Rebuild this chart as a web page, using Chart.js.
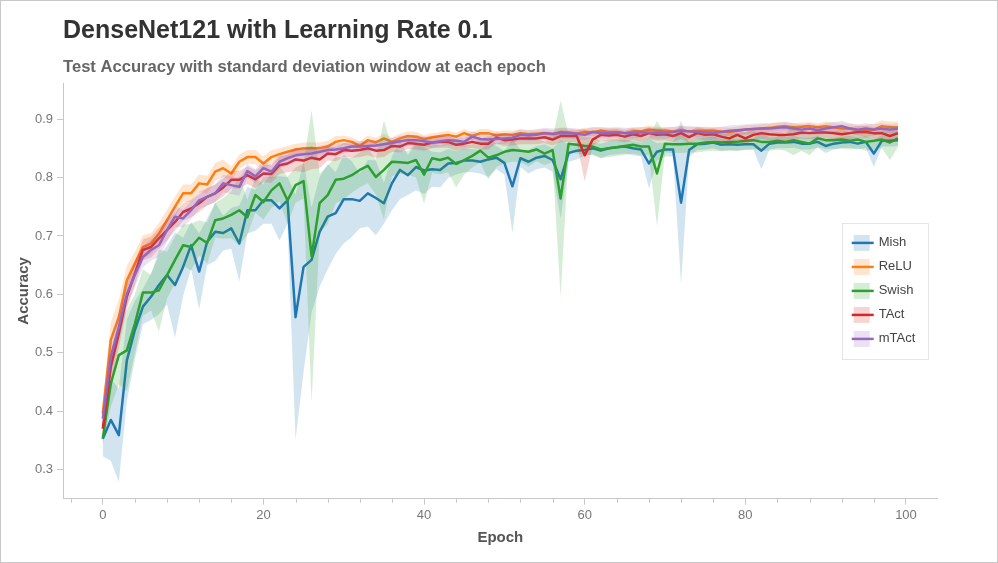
<!DOCTYPE html>
<html>
<head>
<meta charset="utf-8">
<title>DenseNet121 accuracy</title>
<script src="https://cdn.jsdelivr.net/npm/chart.js@4.4.1/dist/chart.umd.min.js"></script>
<style>
  html, body { margin: 0; padding: 0; background: #fff; }
  #wrap { position: relative; width: 998px; height: 563px; }
  #wrap::after { content: ''; position: absolute; left: 0; top: 0; right: 0; bottom: 0; border: 1px solid #c8c8c8; pointer-events: none; }
  canvas { display: block; }
</style>
</head>
<body>
<div id="wrap"><canvas id="accChart" width="998" height="563"></canvas></div>
<script>
// values (mean test accuracy and std per epoch)
const titleText = 'DenseNet121 with Learning Rate 0.1';
const subtitleText = 'Test Accuracy with standard deviation window at each epoch';

const seriesNames = ['Mish', 'ReLU', 'Swish', 'TAct', 'mTAct'];
const seriesColors = ['#1f77b4', '#ff7f0e', '#2ca02c', '#d62728', '#9467bd'];

const epochs = Array.from({ length: 100 }, (_, i) => i);

const xMajorTicks = [0, 20, 40, 60, 80, 100];
const xMinorTicks = [-4, 4, 8, 12, 16, 24, 28, 32, 36, 44, 48, 52, 56, 64, 68, 72, 76, 84, 88, 92, 96];
const yMajorTicks = [0.3, 0.4, 0.5, 0.6, 0.7, 0.8, 0.9];

const mishAcc = [
  0.353, 0.385, 0.359, 0.487, 0.539, 0.579, 0.596, 0.616, 0.633, 0.616,
  0.647, 0.684, 0.639, 0.690, 0.707, 0.705, 0.713, 0.687, 0.744, 0.744,
  0.761, 0.761, 0.747, 0.761, 0.561, 0.647, 0.659, 0.707, 0.733, 0.739,
  0.763, 0.763, 0.760, 0.773, 0.765, 0.756, 0.790, 0.813, 0.804, 0.818,
  0.812, 0.814, 0.813, 0.824, 0.825, 0.829, 0.829, 0.827, 0.831, 0.834,
  0.825, 0.785, 0.833, 0.827, 0.834, 0.837, 0.830, 0.797, 0.842, 0.846,
  0.847, 0.850, 0.846, 0.850, 0.852, 0.853, 0.850, 0.848, 0.824, 0.844,
  0.848, 0.848, 0.757, 0.847, 0.857, 0.858, 0.860, 0.856, 0.857, 0.856,
  0.857, 0.857, 0.846, 0.858, 0.860, 0.860, 0.861, 0.858, 0.858, 0.861,
  0.854, 0.858, 0.860, 0.861, 0.858, 0.861, 0.841, 0.863, 0.863, 0.864
];
const reluAcc = [
  0.396, 0.522, 0.561, 0.624, 0.653, 0.681, 0.687, 0.704, 0.727, 0.750,
  0.773, 0.773, 0.790, 0.788, 0.810, 0.816, 0.807, 0.827, 0.835, 0.835,
  0.824, 0.835, 0.840, 0.844, 0.848, 0.850, 0.850, 0.850, 0.853, 0.861,
  0.864, 0.861, 0.854, 0.864, 0.860, 0.867, 0.861, 0.867, 0.871, 0.870,
  0.866, 0.869, 0.871, 0.873, 0.870, 0.876, 0.871, 0.876, 0.876, 0.872,
  0.874, 0.873, 0.876, 0.874, 0.875, 0.876, 0.874, 0.878, 0.877, 0.875,
  0.878, 0.878, 0.880, 0.878, 0.878, 0.876, 0.879, 0.879, 0.882, 0.880,
  0.880, 0.879, 0.881, 0.879, 0.880, 0.880, 0.880, 0.879, 0.878, 0.880,
  0.882, 0.883, 0.884, 0.885, 0.887, 0.888, 0.886, 0.887, 0.888, 0.886,
  0.888, 0.886, 0.884, 0.884, 0.881, 0.880, 0.882, 0.888, 0.886, 0.886
];
const swishAcc = [
  0.353, 0.447, 0.496, 0.504, 0.550, 0.603, 0.603, 0.607, 0.633, 0.659,
  0.684, 0.681, 0.697, 0.688, 0.727, 0.730, 0.736, 0.744, 0.732, 0.770,
  0.758, 0.778, 0.790, 0.761, 0.787, 0.794, 0.665, 0.756, 0.770, 0.796,
  0.798, 0.804, 0.813, 0.820, 0.801, 0.813, 0.827, 0.826, 0.825, 0.830,
  0.805, 0.833, 0.830, 0.834, 0.823, 0.830, 0.837, 0.846, 0.834, 0.838,
  0.844, 0.847, 0.846, 0.844, 0.848, 0.841, 0.847, 0.764, 0.858, 0.856,
  0.854, 0.853, 0.848, 0.850, 0.852, 0.854, 0.856, 0.853, 0.853, 0.807,
  0.858, 0.857, 0.857, 0.858, 0.858, 0.860, 0.861, 0.860, 0.861, 0.861,
  0.863, 0.864, 0.861, 0.861, 0.863, 0.861, 0.864, 0.861, 0.858, 0.867,
  0.864, 0.864, 0.865, 0.863, 0.865, 0.861, 0.863, 0.865, 0.860, 0.867
];
const tactAcc = [
  0.370, 0.476, 0.533, 0.596, 0.636, 0.676, 0.681, 0.696, 0.710, 0.724,
  0.741, 0.747, 0.756, 0.767, 0.773, 0.783, 0.796, 0.796, 0.804, 0.797,
  0.807, 0.806, 0.821, 0.824, 0.831, 0.829, 0.834, 0.831, 0.841, 0.840,
  0.847, 0.846, 0.847, 0.850, 0.846, 0.847, 0.854, 0.853, 0.859, 0.858,
  0.856, 0.860, 0.861, 0.861, 0.856, 0.858, 0.861, 0.858, 0.858, 0.868,
  0.864, 0.865, 0.867, 0.867, 0.867, 0.869, 0.865, 0.871, 0.871, 0.871,
  0.838, 0.865, 0.873, 0.872, 0.873, 0.870, 0.874, 0.871, 0.876, 0.873,
  0.874, 0.871, 0.876, 0.869, 0.876, 0.873, 0.874, 0.870, 0.867, 0.873,
  0.867, 0.873, 0.876, 0.874, 0.873, 0.873, 0.874, 0.877, 0.876, 0.877,
  0.877, 0.876, 0.874, 0.876, 0.878, 0.878, 0.876, 0.876, 0.871, 0.876
];
const mtactAcc = [
  0.387, 0.493, 0.544, 0.601, 0.633, 0.664, 0.676, 0.684, 0.710, 0.733,
  0.730, 0.744, 0.761, 0.767, 0.773, 0.790, 0.787, 0.784, 0.811, 0.802,
  0.816, 0.810, 0.827, 0.833, 0.838, 0.840, 0.841, 0.844, 0.847, 0.848,
  0.850, 0.853, 0.853, 0.854, 0.855, 0.857, 0.859, 0.862, 0.864, 0.864,
  0.862, 0.860, 0.862, 0.864, 0.863, 0.861, 0.870, 0.866, 0.865, 0.866,
  0.867, 0.868, 0.873, 0.872, 0.873, 0.876, 0.875, 0.876, 0.876, 0.875,
  0.873, 0.878, 0.876, 0.876, 0.877, 0.876, 0.876, 0.877, 0.877, 0.876,
  0.876, 0.878, 0.880, 0.879, 0.878, 0.877, 0.876, 0.878, 0.880, 0.881,
  0.882, 0.883, 0.884, 0.884, 0.885, 0.886, 0.884, 0.882, 0.884, 0.881,
  0.884, 0.886, 0.888, 0.884, 0.882, 0.884, 0.882, 0.884, 0.882, 0.884
];

const mishStd = [
  0.030, 0.070, 0.080, 0.070, 0.050, 0.030, 0.040, 0.050, 0.050, 0.090,
  0.050, 0.040, 0.065, 0.040, 0.050, 0.030, 0.035, 0.065, 0.040, 0.035,
  0.040, 0.040, 0.055, 0.040, 0.210, 0.180, 0.090, 0.094, 0.090, 0.070,
  0.076, 0.065, 0.047, 0.057, 0.064, 0.035, 0.046, 0.050, 0.034, 0.040,
  0.040, 0.030, 0.030, 0.025, 0.020, 0.020, 0.020, 0.020, 0.030, 0.020,
  0.020, 0.080, 0.015, 0.020, 0.020, 0.020, 0.020, 0.067, 0.015, 0.015,
  0.010, 0.010, 0.012, 0.012, 0.012, 0.012, 0.012, 0.012, 0.043, 0.015,
  0.012, 0.012, 0.140, 0.012, 0.010, 0.010, 0.010, 0.010, 0.010, 0.010,
  0.010, 0.010, 0.032, 0.010, 0.010, 0.010, 0.010, 0.010, 0.010, 0.010,
  0.012, 0.010, 0.010, 0.010, 0.010, 0.010, 0.023, 0.010, 0.010, 0.010
];
const reluStd = [
  0.020, 0.030, 0.030, 0.025, 0.020, 0.020, 0.018, 0.018, 0.018, 0.018,
  0.015, 0.015, 0.015, 0.015, 0.015, 0.015, 0.012, 0.012, 0.012, 0.012,
  0.012, 0.012, 0.010, 0.010, 0.010, 0.010, 0.010, 0.010, 0.010, 0.010,
  0.008, 0.008, 0.008, 0.008, 0.008, 0.008, 0.008, 0.008, 0.008, 0.008,
  0.007, 0.007, 0.007, 0.007, 0.007, 0.007, 0.007, 0.007, 0.007, 0.007,
  0.007, 0.007, 0.007, 0.007, 0.007, 0.007, 0.007, 0.007, 0.007, 0.007,
  0.007, 0.007, 0.007, 0.007, 0.007, 0.007, 0.007, 0.007, 0.007, 0.007,
  0.007, 0.007, 0.007, 0.007, 0.007, 0.007, 0.007, 0.007, 0.007, 0.007,
  0.007, 0.007, 0.007, 0.007, 0.007, 0.007, 0.007, 0.007, 0.007, 0.007,
  0.008, 0.008, 0.008, 0.008, 0.008, 0.010, 0.010, 0.010, 0.010, 0.010
];
const swishStd = [
  0.010, 0.040, 0.050, 0.070, 0.050, 0.040, 0.030, 0.070, 0.040, 0.040,
  0.035, 0.040, 0.030, 0.035, 0.030, 0.035, 0.040, 0.060, 0.030, 0.030,
  0.030, 0.030, 0.030, 0.040, 0.030, 0.030, 0.250, 0.050, 0.050, 0.040,
  0.035, 0.030, 0.030, 0.030, 0.030, 0.085, 0.025, 0.020, 0.020, 0.030,
  0.050, 0.025, 0.025, 0.025, 0.040, 0.025, 0.020, 0.020, 0.037, 0.020,
  0.020, 0.020, 0.020, 0.025, 0.020, 0.020, 0.020, 0.168, 0.015, 0.015,
  0.015, 0.015, 0.015, 0.015, 0.015, 0.015, 0.015, 0.015, 0.015, 0.090,
  0.015, 0.015, 0.015, 0.015, 0.015, 0.015, 0.015, 0.015, 0.015, 0.015,
  0.015, 0.015, 0.015, 0.015, 0.015, 0.015, 0.026, 0.015, 0.020, 0.015,
  0.015, 0.015, 0.015, 0.015, 0.015, 0.015, 0.015, 0.015, 0.030, 0.015
];
const tactStd = [
  0.020, 0.025, 0.025, 0.020, 0.020, 0.018, 0.018, 0.018, 0.018, 0.015,
  0.015, 0.015, 0.015, 0.015, 0.015, 0.015, 0.015, 0.015, 0.015, 0.015,
  0.015, 0.015, 0.015, 0.015, 0.020, 0.020, 0.020, 0.015, 0.012, 0.012,
  0.012, 0.012, 0.012, 0.012, 0.012, 0.012, 0.010, 0.010, 0.010, 0.010,
  0.010, 0.010, 0.010, 0.010, 0.010, 0.010, 0.010, 0.010, 0.010, 0.010,
  0.010, 0.010, 0.010, 0.010, 0.010, 0.010, 0.010, 0.010, 0.010, 0.010,
  0.045, 0.010, 0.010, 0.010, 0.010, 0.010, 0.010, 0.010, 0.010, 0.010,
  0.010, 0.010, 0.010, 0.010, 0.010, 0.010, 0.010, 0.010, 0.010, 0.010,
  0.010, 0.010, 0.010, 0.010, 0.010, 0.010, 0.010, 0.010, 0.010, 0.010,
  0.010, 0.010, 0.010, 0.010, 0.010, 0.010, 0.010, 0.010, 0.012, 0.010
];
const mtactStd = [
  0.020, 0.030, 0.025, 0.020, 0.020, 0.018, 0.018, 0.020, 0.020, 0.018,
  0.015, 0.015, 0.015, 0.015, 0.015, 0.015, 0.015, 0.015, 0.012, 0.012,
  0.012, 0.012, 0.012, 0.012, 0.010, 0.010, 0.010, 0.010, 0.010, 0.010,
  0.009, 0.009, 0.009, 0.009, 0.009, 0.009, 0.009, 0.009, 0.009, 0.009,
  0.009, 0.009, 0.009, 0.009, 0.009, 0.009, 0.009, 0.009, 0.009, 0.009,
  0.009, 0.009, 0.009, 0.009, 0.009, 0.009, 0.009, 0.009, 0.009, 0.009,
  0.009, 0.009, 0.009, 0.009, 0.009, 0.009, 0.009, 0.009, 0.009, 0.009,
  0.009, 0.009, 0.009, 0.009, 0.009, 0.009, 0.009, 0.009, 0.009, 0.009,
  0.009, 0.009, 0.009, 0.009, 0.009, 0.009, 0.009, 0.009, 0.009, 0.009,
  0.009, 0.009, 0.009, 0.009, 0.009, 0.009, 0.009, 0.009, 0.009, 0.009
];

const seriesMeans = [mishAcc, reluAcc, swishAcc, tactAcc, mtactAcc];
const seriesStds = [mishStd, reluStd, swishStd, tactStd, mtactStd];

(function () {
  const canvas = document.getElementById('accChart');
  const FONT = "'Liberation Sans', Arial, Helvetica, sans-serif";
  const AXIS_COLOR = '#c8c8c8';

  function rgba(hex, a) {
    const n = parseInt(hex.slice(1), 16);
    return `rgba(${(n >> 16) & 255},${(n >> 8) & 255},${n & 255},${a})`;
  }

  // band (mean +/- std) then line, per series, in plotting order
  const datasets = [];
  seriesNames.forEach((name, k) => {
    const mean = seriesMeans[k], sd = seriesStds[k], col = seriesColors[k];
    datasets.push({
      label: name + ' upper',
      data: epochs.map((e, i) => ({ x: e, y: mean[i] + sd[i] })),
      borderWidth: 0, pointRadius: 0, backgroundColor: rgba(col, 0.2),
      fill: '+1', order: 50 - 2 * k
    });
    datasets.push({
      label: name + ' lower',
      data: epochs.map((e, i) => ({ x: e, y: mean[i] - sd[i] })),
      borderWidth: 0, pointRadius: 0, fill: false, order: 50 - 2 * k
    });
    datasets.push({
      label: name,
      data: epochs.map((e, i) => ({ x: e, y: mean[i] })),
      borderColor: col, borderWidth: 2.5, pointRadius: 0, fill: false,
      borderJoinStyle: 'round', order: 49 - 2 * k
    });
  });

  // minor ticks on the x axis
  const minorTicks = {
    id: 'minorTicks',
    afterDraw(chart) {
      const { ctx, chartArea: a, scales: { x } } = chart;
      ctx.save();
      ctx.strokeStyle = AXIS_COLOR;
      ctx.lineWidth = 1;
      ctx.beginPath();
      xMinorTicks.forEach(v => {
        const px = Math.round(x.getPixelForValue(v)) + 0.5;
        ctx.moveTo(px, a.bottom); ctx.lineTo(px, a.bottom + 4);
      });
      ctx.stroke();
      ctx.restore();
    }
  };

  // legend box inside the plot, centred on the right edge
  const insideLegend = {
    id: 'insideLegend',
    afterDraw(chart) {
      const { ctx, chartArea: a } = chart;
      const w = 86, itemH = 20, gap = 4, pad = 10;
      const h = pad * 2 + seriesNames.length * itemH + (seriesNames.length - 1) * gap;
      const left = a.right - 10 - w;
      const top = (a.top + a.bottom) / 2 - h / 2;
      ctx.save();
      ctx.fillStyle = 'rgba(255,255,255,0.95)';
      ctx.fillRect(left, top, w, h);
      ctx.strokeStyle = '#e5e5e5';
      ctx.lineWidth = 1;
      ctx.strokeRect(Math.round(left) + 0.5, Math.round(top) + 0.5, w, h);
      ctx.font = `13px ${FONT}`;
      ctx.textBaseline = 'middle';
      seriesNames.forEach((name, k) => {
        const gx = left + pad, gy = top + pad + k * (itemH + gap);
        const cy = gy + itemH / 2;
        ctx.fillStyle = rgba(seriesColors[k], 0.2);
        ctx.fillRect(gx + 2, gy + 2, 16, 16);
        ctx.strokeStyle = seriesColors[k];
        ctx.lineWidth = 2.5;
        ctx.beginPath();
        ctx.moveTo(gx, cy); ctx.lineTo(gx + 22, cy);
        ctx.stroke();
        ctx.fillStyle = '#444';
        ctx.fillText(name, gx + 27, cy);
      });
      ctx.restore();
    }
  };

  new Chart(canvas.getContext('2d'), {
    type: 'line',
    data: { datasets },
    plugins: [minorTicks, insideLegend],
    options: {
      responsive: false,
      animation: false,
      devicePixelRatio: 1,
      events: [],
      layout: { padding: { top: 0, right: 60.3, bottom: 0, left: 0 } },
      elements: { line: { tension: 0 } },
      plugins: {
        legend: { display: false },
        tooltip: { enabled: false },
        title: {
          display: true, text: titleText, align: 'start', fullSize: false,
          color: '#333', font: { family: FONT, size: 25, weight: 'bold' },
          padding: { top: 16.5, bottom: 0 }
        },
        subtitle: {
          display: true, text: subtitleText, align: 'start', fullSize: false,
          color: '#666', font: { family: FONT, size: 16.6, weight: 'bold' },
          padding: { top: 10.9, bottom: 5.8 }
        }
      },
      scales: {
        x: {
          type: 'linear', min: -4.95, max: 103.95,
          afterBuildTicks: s => { s.ticks = xMajorTicks.map(v => ({ value: v })); },
          afterFit: s => { s.height = 64.3; },
          border: { color: AXIS_COLOR, width: 1 },
          grid: { drawOnChartArea: false, drawTicks: true, tickLength: 6, color: AXIS_COLOR },
          ticks: { color: '#777', padding: 2.5, maxRotation: 0, font: { family: FONT, size: 13 } },
          title: {
            display: true, text: 'Epoch', color: '#555',
            font: { family: FONT, size: 15, weight: 'bold' },
            padding: { top: 0, bottom: 16.5 }
          }
        },
        y: {
          type: 'linear', min: 0.2502, max: 0.9616,
          afterBuildTicks: s => { s.ticks = yMajorTicks.map(v => ({ value: v })); },
          afterFit: s => { s.width = 63; },
          border: { color: AXIS_COLOR, width: 1 },
          grid: { drawOnChartArea: false, drawTicks: true, tickLength: 6, color: AXIS_COLOR },
          ticks: { color: '#777', padding: 4, font: { family: FONT, size: 13 }, callback: v => v.toFixed(1) },
          title: {
            display: true, text: 'Accuracy', color: '#555',
            font: { family: FONT, size: 15, weight: 'bold' },
            padding: { top: 15, bottom: 0 }
          }
        }
      }
    }
  });
})();
</script>
</body>
</html>
